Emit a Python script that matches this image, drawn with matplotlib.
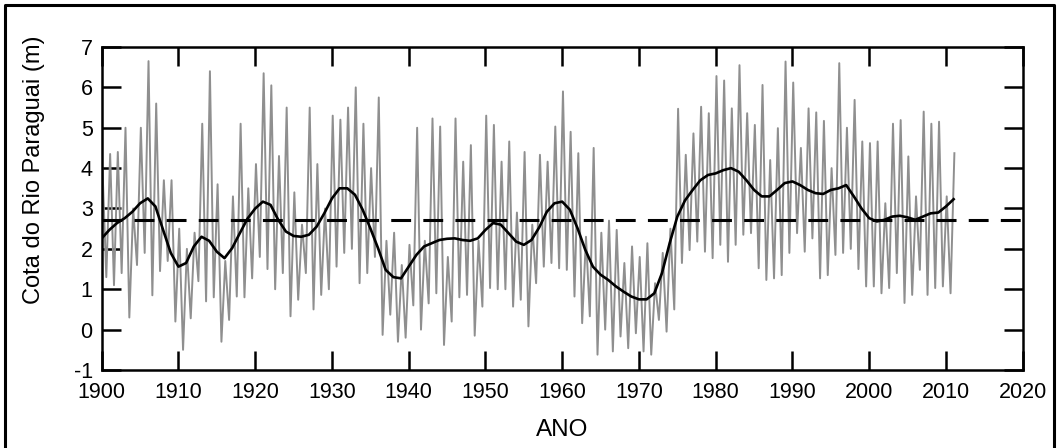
import numpy as np
import matplotlib
matplotlib.use("Agg")
import matplotlib.pyplot as plt
from matplotlib.lines import Line2D

plt.rcParams['font.family'] = ['Liberation Sans', 'DejaVu Sans']
plt.rcParams['axes.unicode_minus'] = False

# annual flood peaks and low-water levels (m)
years = np.arange(1900, 2012)
peaks = [
    4.0, 4.35, 4.4, 5.0, 3.0, 5.0, 6.65, 5.6, 3.7, 3.7,      # 1900-1909
    2.5, 2.0, 2.4, 5.1, 6.4, 3.6, 1.7, 3.3, 5.1, 3.5,        # 1910-1919
    4.1, 6.35, 6.05, 4.3, 5.5, 3.4, 2.6, 5.5, 4.1, 3.0,      # 1920-1929
    5.3, 5.2, 5.5, 6.0, 5.1, 4.0, 5.75, 2.2, 2.4, 1.6,       # 1930-1939
    2.1, 5.0, 2.2, 5.23, 5.03, 1.8, 5.23, 4.16, 4.57, 2.2,   # 1940-1949
    5.3, 5.07, 4.16, 4.66, 2.9, 4.4, 2.6, 4.33, 4.16, 5.03,  # 1950-1959
    5.9, 4.9, 4.37, 2.3, 4.5, 2.4, 2.7, 2.47, 1.65, 2.06,    # 1960-1969
    1.8, 2.14, 1.15, 1.9, 2.5, 5.47, 4.33, 4.86, 5.52, 5.36, # 1970-1979
    6.28, 6.17, 5.48, 6.55, 5.36, 5.07, 6.06, 4.2, 4.99, 6.64,  # 1980-1989
    6.12, 4.5, 5.48, 5.38, 5.17, 4.0, 6.6, 5.0, 5.69, 4.66,  # 1990-1999
    4.62, 4.66, 3.13, 5.1, 5.19, 4.29, 3.3, 5.4, 5.1, 5.15,  # 2000-2009
    3.3, 4.37,                                               # 2010-2011
]
troughs = [
    1.3, 1.1, 1.4, 0.3, 1.6, 1.9, 0.85, 1.45, 1.7, 0.2,         # 1900-1909
    -0.5, 0.28, 1.2, 0.7, 0.8, -0.3, 0.24, 0.82, 0.8, 1.27,     # 1910-1919
    1.8, 1.5, 1.0, 1.4, 0.33, 0.74, 1.4, 0.5, 0.86, 1.0,        # 1920-1929
    1.56, 1.9, 2.0, 1.15, 1.4, 1.8, -0.13, 0.37, -0.3, -0.2,    # 1930-1939
    0.6, 0.0, 0.65, 0.9, -0.38, 0.2, 0.8, 0.86, -0.15, 0.57,    # 1940-1949
    1.03, 1.0, 1.0, 0.57, 0.74, 0.08, 1.15, 1.56, 1.65, 1.52,   # 1950-1959
    1.48, 0.82, 0.16, 0.33, -0.62, 0.0, -0.54, -0.17, -0.46, -0.09,  # 1960-1969
    -0.54, -0.62, 0.24, -0.05, 0.5, 1.65, 1.97, 2.18, 1.93, 1.77,    # 1970-1979
    2.1, 1.68, 2.1, 2.35, 2.39, 1.52, 1.23, 1.27, 1.35, 1.9,    # 1980-1989
    2.39, 1.93, 2.26, 1.27, 1.35, 1.85, 1.9, 2.0, 1.5, 1.07,    # 1990-1999
    1.07, 0.9, 1.03, 1.4, 0.66, 0.86, 1.48, 0.86, 1.03, 1.07,   # 2000-2009
    0.9,                                                        # 2010
]
# smoothed level (black curve), one value per year
smooth = [
    2.26, 2.47, 2.64, 2.76, 2.92, 3.13, 3.25, 3.05, 2.47, 1.9,
    1.56, 1.65, 2.06, 2.3, 2.2, 1.93, 1.77, 2.02, 2.39, 2.75,
    3.0, 3.17, 3.09, 2.72, 2.43, 2.32, 2.3, 2.35, 2.55, 2.88,
    3.25, 3.5, 3.5, 3.34, 2.97, 2.51, 2.02, 1.48, 1.3, 1.27,
    1.56, 1.85, 2.06, 2.14, 2.22, 2.25, 2.26, 2.22, 2.2, 2.26,
    2.47, 2.64, 2.6, 2.39, 2.18, 2.1, 2.22, 2.53, 2.92, 3.13,
    3.17, 2.97, 2.51, 1.98, 1.56, 1.36, 1.23, 1.07, 0.94, 0.82,
    0.75, 0.75, 0.9, 1.4, 2.14, 2.8, 3.2, 3.46, 3.7, 3.83,
    3.87, 3.95, 4.0, 3.91, 3.7, 3.46, 3.3, 3.3, 3.46, 3.63,
    3.67, 3.58, 3.46, 3.38, 3.36, 3.46, 3.5, 3.58, 3.3, 3.0,
    2.76, 2.68, 2.72, 2.8, 2.82, 2.78, 2.72, 2.8, 2.88, 2.9,
    3.05, 3.23,
]
mean_level = 2.72

# zigzag: peak early in the year, low water later
t, v = [], []
for i, y in enumerate(years):
    t.append(y + 0.1)
    v.append(peaks[i])
    if i < len(troughs):
        t.append(y + 0.6)
        v.append(troughs[i])

fig = plt.figure(figsize=(10.6, 4.48), dpi=100)
ax = fig.add_axes([101.7 / 1060, 1 - 370 / 448, 921 / 1060, 323 / 448])

ax.plot(t, v, color='#8f8f8f', lw=1.4, zorder=2)
ax.plot(years, smooth, color='black', lw=1.9, zorder=3)
ax.axhline(mean_level, color='black', lw=2.2, ls=(0, (6.5, 4)), zorder=4)

ax.set_xlim(1900, 2020)
ax.set_ylim(-1, 7)
ax.set_xticks(np.arange(1900, 2021, 10))
ax.set_yticks(np.arange(-1, 8, 1))
ax.tick_params(direction='in', length=13.5, width=1.8, top=True, right=True,
               labelsize=15.5, colors='black')
ax.tick_params(axis='x', pad=9)
ax.tick_params(axis='y', pad=6.5)
for s in ax.spines.values():
    s.set_linewidth(1.8)

ax.set_xlabel('ANO', fontsize=17.5)
ax.xaxis.set_label_coords(0.5, -0.152)
ax.set_ylabel('Cota do Rio Paraguai (m)', fontsize=17)
ax.yaxis.set_label_coords(-0.062, 0.62)

# outer frame of the figure (open at the bottom)
fx = [0.005, 0.005, 0.994, 0.994]
fy = [0.0, 0.988, 0.988, 0.0]
fig.add_artist(Line2D(fx, fy, transform=fig.transFigure, color='black', lw=2.2))

fig.savefig('out.png', dpi=100)
